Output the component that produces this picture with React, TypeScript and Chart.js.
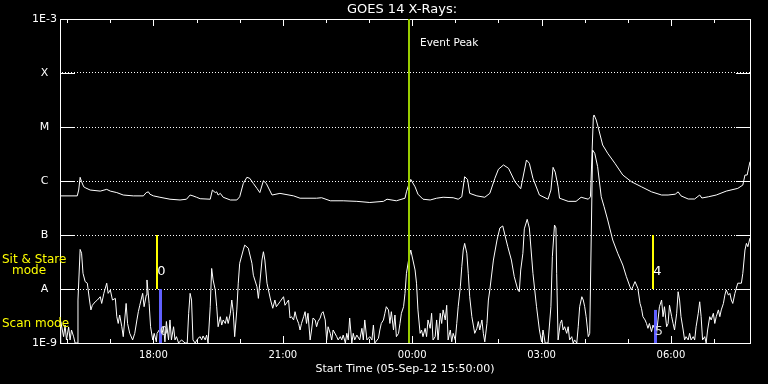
import React, { useEffect, useRef } from "react";
import { Chart, registerables } from "chart.js";

Chart.register(...registerables);

const FONT = "DejaVu Sans";

const chartTitle = "GOES 14 X-Rays:";
const xAxisTitle = "Start Time (05-Sep-12 15:50:00)";
const totalMinutes = 960; // 15:50 -> 07:50

const majorTickMinutes = [130, 310, 490, 670, 850];
const majorTickLabels = ["18:00", "21:00", "00:00", "03:00", "06:00"];
const minorTickMinutes = [10, 70, 190, 250, 370, 430, 550, 610, 730, 790, 910];

const yTickValues = [1e-9, 1e-8, 1e-7, 1e-6, 1e-5, 1e-4, 1e-3];
const yTickLabels = ["1E-9", "A", "B", "C", "M", "X", "1E-3"];

// Long channel (upper curve): minutes after 15:50, flux W/m^2
const longMinutes = [
  0, 24, 26, 28, 30, 33, 36, 42, 56, 65, 70, 79, 88, 102, 116, 120, 123, 125, 130, 139,
  153, 167, 176, 181, 185, 190, 195, 209, 212, 216, 218, 220, 223, 227, 237, 246, 250, 255, 260, 264,
  269, 274, 278, 283, 287, 295, 306, 325, 334, 357, 364, 376, 394, 413, 431, 450, 455, 468, 480, 482,
  485, 488, 494, 498, 505, 515, 524, 533, 547, 554, 559, 563, 567, 570, 580, 591, 598, 605, 610, 617,
  624, 633, 641, 649, 653, 658, 667, 679, 683, 686, 689, 693, 695, 707, 718, 725, 735, 738, 742, 743,
  746, 749, 755, 762, 772, 783, 795, 809, 823, 837, 846, 856, 860, 864, 874, 883, 890, 893, 902, 913,
  927, 943, 950, 953, 956, 960,
];
const longFlux = [
  5.3e-7, 5.3e-7, 6.8e-7, 1.17e-6, 9.7e-7, 7.8e-7, 7.4e-7, 6.8e-7, 6.5e-7, 7.0e-7, 6.5e-7, 6.1e-7, 5.5e-7, 5.3e-7, 5.3e-7, 6.1e-7, 6.3e-7, 5.7e-7, 5.3e-7, 5.0e-7,
  4.6e-7, 4.45e-7, 4.6e-7, 5.5e-7, 5.3e-7, 5.0e-7, 4.7e-7, 4.6e-7, 6.8e-7, 6.1e-7, 6.3e-7, 5.5e-7, 5.9e-7, 5.0e-7, 4.45e-7, 4.45e-7, 5.1e-7, 9.0e-7, 1.17e-6, 1.12e-6,
  9.0e-7, 7.3e-7, 6.1e-7, 1.01e-6, 9.0e-7, 5.5e-7, 5.9e-7, 5.3e-7, 4.8e-7, 4.8e-7, 4.9e-7, 4.3e-7, 4.3e-7, 4.2e-7, 4.0e-7, 4.2e-7, 4.6e-7, 4.3e-7, 4.8e-7, 6.3e-7,
  8.4e-7, 1.07e-6, 7.8e-7, 5.7e-7, 4.6e-7, 4.45e-7, 4.8e-7, 5.0e-7, 4.9e-7, 4.6e-7, 5.1e-7, 1.2e-6, 1.07e-6, 5.9e-7, 5.3e-7, 5.0e-7, 5.9e-7, 1.12e-6, 1.65e-6, 1.98e-6,
  1.72e-6, 9.7e-7, 7.2e-7, 2.45e-6, 2.13e-6, 1.12e-6, 5.5e-7, 4.6e-7, 6.8e-7, 1.79e-6, 1.46e-6, 7.8e-7, 4.8e-7, 4.2e-7, 4.2e-7, 5.0e-7, 4.6e-7, 5.1e-7, 1.5e-5, 1.67e-5,
  1.35e-5, 9.6e-6, 4.64e-6, 3.26e-6, 2.13e-6, 1.29e-6, 9.7e-7, 7.8e-7, 6.3e-7, 5.5e-7, 5.5e-7, 5.7e-7, 6.3e-7, 5.3e-7, 4.64e-7, 4.64e-7, 5.5e-7, 4.84e-7, 5.1e-7, 5.5e-7,
  6.5e-7, 7.3e-7, 8.4e-7, 1.29e-6, 1.29e-6, 2.28e-6,
];

// Short channel (lower curve)
const shortMinutes = [
  0, 1, 5, 7, 9, 12, 14, 16, 19, 21, 24, 25, 28, 30, 32, 35, 38, 41, 43, 45,
  49, 52, 56, 58, 61, 65, 67, 70, 73, 77, 79, 81, 83, 86, 88, 92, 94, 97, 101, 104,
  107, 109, 111, 115, 117, 120, 121, 124, 126, 129, 131, 134, 135, 138, 141, 144, 146, 148, 151, 153,
  155, 158, 160, 162, 165, 169, 174, 177, 179, 181, 183, 185, 188, 192, 195, 197, 199, 202, 204, 206,
  209, 211, 213, 216, 218, 220, 223, 225, 227, 230, 232, 234, 237, 239, 241, 243, 246, 248, 250, 255,
  257, 262, 267, 269, 274, 276, 278, 281, 283, 285, 288, 290, 293, 296, 299, 301, 306, 311, 313, 318,
  320, 322, 325, 327, 329, 332, 334, 336, 339, 341, 343, 345, 348, 350, 352, 355, 357, 359, 362, 364,
  366, 369, 371, 373, 376, 378, 380, 385, 387, 390, 392, 394, 397, 399, 401, 403, 406, 408, 410, 413,
  417, 420, 422, 424, 427, 431, 434, 436, 438, 443, 445, 447, 450, 452, 454, 457, 459, 461, 464, 466,
  468, 471, 473, 475, 478, 480, 482, 485, 488, 491, 494, 496, 498, 501, 503, 505, 508, 510, 512, 515,
  517, 519, 522, 524, 526, 529, 531, 533, 536, 538, 540, 543, 545, 547, 550, 552, 554, 557, 559, 561,
  563, 566, 568, 570, 573, 575, 577, 580, 582, 584, 587, 589, 591, 594, 596, 598, 603, 608, 612, 616,
  620, 623, 628, 632, 637, 639, 641, 644, 646, 650, 653, 658, 663, 667, 670, 672, 675, 679, 683, 685,
  688, 690, 691, 693, 696, 698, 700, 702, 705, 707, 709, 712, 714, 716, 719, 721, 723, 726, 728, 730,
  732, 735, 737, 741, 744, 748, 753, 757, 762, 769, 776, 783, 788, 793, 795, 797, 800, 804, 807, 809,
  811, 814, 816, 818, 820, 823, 825, 827, 830, 832, 834, 837, 839, 841, 844, 846, 848, 851, 853, 855,
  858, 860, 862, 864, 867, 869, 871, 874, 876, 878, 881, 883, 885, 888, 890, 892, 894, 897, 899, 901,
  904, 906, 909, 911, 913, 916, 918, 920, 923, 925, 927, 930, 932, 934, 936, 939, 941, 943, 948, 950,
  953, 955, 957, 960,
];
const shortFlux = [
  1e-9, 2.5e-9, 1.31e-9, 2.15e-9, 1.14e-9, 1.98e-9, 1.14e-9, 1.74e-9, 1.3e-9, 1e-9, 1e-9, 6.25e-9, 5.4e-8, 4.6e-8, 1.95e-8, 1.37e-8, 1.28e-8, 6.25e-9, 4.1e-9, 5.0e-9,
  5.8e-9, 6.25e-9, 7.2e-9, 5.4e-9, 8.3e-9, 1.28e-8, 8.3e-9, 9.6e-9, 6.25e-9, 6.7e-9, 3.07e-9, 2.3e-9, 3.3e-9, 2.0e-9, 1.31e-9, 5.4e-9, 2.3e-9, 1.51e-9, 1.14e-9, 1.51e-9,
  2.67e-9, 3.8e-9, 5.0e-9, 8.3e-9, 4.7e-9, 7.7e-9, 1.47e-8, 5.4e-9, 2.0e-9, 1.14e-9, 1.51e-9, 1.05e-9, 1.5e-9, 1.74e-9, 1.3e-9, 2.0e-9, 1.05e-9, 2.5e-9, 1.14e-9, 2.67e-9,
  1.14e-9, 2.0e-9, 1.14e-9, 1.31e-9, 1e-9, 1.14e-9, 1e-9, 1e-9, 3.55e-9, 8.3e-9, 6.25e-9, 1.14e-9, 1e-9, 1.22e-9, 1.31e-9, 1.14e-9, 1.35e-9, 1.14e-9, 1.4e-9, 1e-9,
  4.7e-9, 2.4e-8, 1.47e-8, 9.6e-9, 4.7e-9, 2.0e-9, 3.07e-9, 2.15e-9, 2.67e-9, 2.3e-9, 3.07e-9, 2.3e-9, 3.55e-9, 6.25e-9, 3.8e-9, 1.31e-9, 4.1e-9, 1.28e-8, 3.0e-8, 5.3e-8,
  6.5e-8, 5.7e-8, 3.0e-8, 1.8e-8, 1.1e-8, 6.7e-9, 1.28e-8, 3.44e-8, 4.9e-8, 3.44e-8, 1.28e-8, 9.6e-9, 6.25e-9, 4.4e-9, 6.25e-9, 4.7e-9, 5.8e-9, 7.2e-9, 5.0e-9, 6.25e-9,
  2.9e-9, 3.07e-9, 2.67e-9, 3.8e-9, 2.9e-9, 2.3e-9, 1.74e-9, 2.3e-9, 3.07e-9, 3.8e-9, 2.3e-9, 3.55e-9, 1.14e-9, 1.74e-9, 2.9e-9, 2.67e-9, 2.0e-9, 2.5e-9, 2.9e-9, 3.55e-9,
  3.8e-9, 2.67e-9, 1.14e-9, 2.0e-9, 1.51e-9, 1.14e-9, 1.74e-9, 1.31e-9, 1.14e-9, 1.31e-9, 1.14e-9, 1.4e-9, 1e-9, 1.51e-9, 1.14e-9, 2.9e-9, 1e-9, 1.51e-9, 1.14e-9, 1.4e-9,
  1.14e-9, 1.87e-9, 1.14e-9, 2.67e-9, 1.14e-9, 1.31e-9, 1.14e-9, 2.15e-9, 1e-9, 1.22e-9, 1.74e-9, 2.3e-9, 2.67e-9, 3.55e-9, 4.7e-9, 4.1e-9, 2.3e-9, 3.8e-9, 1.74e-9, 3.3e-9,
  1.31e-9, 1.51e-9, 2.3e-9, 3.55e-9, 4.7e-9, 8.3e-9, 1.95e-8, 3.44e-8, 5.27e-8, 3.44e-8, 2.25e-8, 1.28e-8, 4.1e-9, 1.51e-9, 1.74e-9, 1.31e-9, 1.87e-9, 1.31e-9, 2.67e-9, 1.87e-9,
  3.55e-9, 1.14e-9, 1.31e-9, 2.67e-9, 1.14e-9, 3.55e-9, 2.3e-9, 4.1e-9, 2.67e-9, 5.0e-9, 1.14e-9, 1.74e-9, 1.05e-9, 1.51e-9, 1.14e-9, 2.3e-9, 4.7e-9, 1.1e-8, 2.59e-8, 5.27e-8,
  7.0e-8, 4.6e-8, 1.95e-8, 7.2e-9, 3.07e-9, 2.15e-9, 1.51e-9, 1.87e-9, 2.5e-9, 1.74e-9, 2.67e-9, 1.51e-9, 1.05e-9, 2.3e-9, 6.25e-9, 9.6e-9, 3.44e-8, 8.07e-8, 1.35e-7, 1.47e-7,
  8.8e-8, 6.07e-8, 3.44e-8, 1.69e-8, 9.6e-9, 8.9e-9, 2.25e-8, 4.58e-8, 1.3e-7, 1.95e-7, 1.35e-7, 1.95e-8, 4.7e-9, 1.74e-9, 1.05e-9, 1.74e-9, 1e-9, 1e-9, 4.7e-9, 3.96e-8,
  1.53e-7, 1.35e-7, 1.95e-8, 1.14e-9, 2.3e-9, 2.67e-9, 1.74e-9, 2.0e-9, 1.51e-9, 2.0e-9, 1.14e-9, 1.31e-9, 1e-9, 1.14e-9, 1e-9, 2.0e-9, 4.7e-9, 7.2e-9, 6.25e-9, 4.7e-9,
  3.07e-9, 1.31e-9, 1.51e-9, 3.75e-6, 3.26e-6, 1.84e-6, 5.1e-7, 3.34e-7, 1.9e-7, 8.07e-8, 4.58e-8, 2.78e-8, 1.69e-8, 1.1e-8, 9.6e-9, 1.1e-8, 1.37e-8, 1.03e-8, 5.4e-9, 4.4e-9,
  3.07e-9, 2.67e-9, 2.3e-9, 1.87e-9, 2.3e-9, 1.62e-9, 2.15e-9, 1.87e-9, 1.51e-9, 2.67e-9, 4.7e-9, 6.25e-9, 3.07e-9, 4.7e-9, 2.0e-9, 2.3e-9, 5.0e-9, 3.07e-9, 2.3e-9, 1.74e-9,
  3.55e-9, 8.9e-9, 6.25e-9, 3.07e-9, 1.74e-9, 1.14e-9, 1.31e-9, 1.14e-9, 1.51e-9, 1.14e-9, 1.31e-9, 1.14e-9, 2.0e-9, 3.55e-9, 5.8e-9, 3.07e-9, 1.14e-9, 1.31e-9, 1e-9, 1.74e-9,
  3.07e-9, 2.67e-9, 3.55e-9, 2.3e-9, 3.07e-9, 4.1e-9, 3.07e-9, 4.1e-9, 5.4e-9, 7.7e-9, 9.6e-9, 7.7e-9, 8.3e-9, 6.25e-9, 5.4e-9, 8.3e-9, 1.04e-8, 1.28e-8, 1.28e-8, 1.95e-8,
  5.27e-8, 7.0e-8, 6.07e-8, 8.8e-8,
];

// Annotations
const eventPeakMinute = 486;
const eventPeakLabel = "Event Peak";
const sitStareMinutes = [135, 825];
const sitStareLabels = ["0", "4"];
const sitStareLow = 1e-8;
const sitStareHigh = 1e-7;
const scanMinutes = [139, 828];
const scanTops = [1e-8, 4.1e-9];
const scanLabels = ["0", "5"];

const decorPlugin = {
  id: "decor",
  beforeDraw(chart: any) {
    const { ctx, width, height } = chart;
    ctx.save();
    ctx.fillStyle = "#000";
    ctx.fillRect(0, 0, width, height);
    ctx.restore();
  },
  afterDraw(chart: any) {
    const { ctx, chartArea } = chart;
    const { left, right, top, bottom } = chartArea;
    const xs = chart.scales.x;
    const ys = chart.scales.y;
    ctx.save();

    // frame
    ctx.strokeStyle = "#fff";
    ctx.lineWidth = 1;
    ctx.strokeRect(left + 0.5, top + 0.5, right - left, bottom - top);

    // y decade ticks (inside, both sides)
    ctx.beginPath();
    yTickValues.slice(1, -1).forEach((v) => {
      const py = Math.round(ys.getPixelForValue(v)) + 0.5;
      ctx.moveTo(left, py);
      ctx.lineTo(left + 15, py);
      ctx.moveTo(right - 14, py);
      ctx.lineTo(right, py);
    });
    ctx.stroke();

    // x ticks top and bottom, inward
    ctx.beginPath();
    majorTickMinutes.forEach((m) => {
      const px = Math.round(xs.getPixelForValue(m)) + 0.5;
      ctx.moveTo(px, top);
      ctx.lineTo(px, top + 7);
      ctx.moveTo(px, bottom);
      ctx.lineTo(px, bottom - 7);
    });
    minorTickMinutes.forEach((m) => {
      const px = Math.round(xs.getPixelForValue(m)) + 0.5;
      ctx.moveTo(px, top);
      ctx.lineTo(px, top + 4);
      ctx.moveTo(px, bottom);
      ctx.lineTo(px, bottom - 4);
    });
    ctx.stroke();

    // event peak line
    const ex = xs.getPixelForValue(eventPeakMinute);
    ctx.fillStyle = "#99cc00";
    ctx.fillRect(Math.round(ex) - 1, top, 2, bottom - top);
    ctx.fillStyle = "#fff";
    ctx.font = `10.5px "${FONT}"`;
    ctx.textAlign = "left";
    ctx.textBaseline = "middle";
    ctx.fillText(eventPeakLabel, Math.round(ex) + 11, 43);

    // sit & stare marks
    const yHi = ys.getPixelForValue(sitStareHigh);
    const yLo = ys.getPixelForValue(sitStareLow);
    ctx.font = `13px "${FONT}"`;
    ctx.textAlign = "center";
    sitStareMinutes.forEach((m, i) => {
      const px = Math.round(xs.getPixelForValue(m));
      ctx.fillStyle = "#ffff00";
      ctx.fillRect(px - 1, yHi, 2, yLo - yHi);
      ctx.fillStyle = "#fff";
      ctx.fillText(sitStareLabels[i], px + 4.5, yLo - 17);
    });
    scanMinutes.forEach((m, i) => {
      const px = Math.round(xs.getPixelForValue(m));
      const yt = ys.getPixelForValue(scanTops[i]);
      ctx.fillStyle = "#6060ff";
      ctx.fillRect(px - 1, yt, 3, bottom - yt);
      ctx.fillStyle = "#ddd";
      ctx.fillText(scanLabels[i], px + 4, bottom - 11);
    });

    // title
    ctx.fillStyle = "#fff";
    ctx.font = `13px "${FONT}"`;
    ctx.textAlign = "center";
    ctx.textBaseline = "middle";
    ctx.fillText(chartTitle, (left + right) / 2 - 3, 10);

    // x axis title
    ctx.font = `11px "${FONT}"`;
    ctx.fillText(xAxisTitle, (left + right) / 2, 369);

    // mode labels
    ctx.fillStyle = "#ffff00";
    ctx.textAlign = "left";
    ctx.font = `12px "${FONT}"`;
    ctx.fillText("Sit & Stare", 2, 259.5);
    ctx.fillText("mode", 12, 271);
    ctx.fillText("Scan mode", 2, 324);

    ctx.restore();
  },
};

export default function App() {
  const canvasRef = useRef<HTMLCanvasElement | null>(null);

  useEffect(() => {
    document.body.style.margin = "0";
    document.body.style.background = "#000";
    const canvas = canvasRef.current;
    if (!canvas) return;

    const longData = longMinutes.map((m, i) => ({ x: m, y: longFlux[i] }));
    const shortData = shortMinutes.map((m, i) => ({ x: m, y: shortFlux[i] }));

    const chart = new Chart(canvas, {
      type: "line",
      data: {
        datasets: [
          { label: "1-8 A", data: longData, borderColor: "#fff", borderWidth: 1, pointRadius: 0, tension: 0 },
          { label: "0.5-4 A", data: shortData, borderColor: "#fff", borderWidth: 1, pointRadius: 0, tension: 0 },
        ],
      },
      options: {
        animation: false,
        responsive: false,
        devicePixelRatio: 1,
        layout: { padding: { top: 19, right: 18, left: 0, bottom: 0 } },
        plugins: {
          legend: { display: false },
          tooltip: { enabled: false },
          title: { display: false },
        },
        scales: {
          x: {
            type: "linear",
            min: 0,
            max: totalMinutes,
            position: "bottom",
            afterFit: (s: any) => {
              s.height = 41;
            },
            afterBuildTicks: (s: any) => {
              s.ticks = majorTickMinutes.map((v) => ({ value: v }));
            },
            ticks: {
              autoSkip: false,
              maxRotation: 0,
              minRotation: 0,
              color: "#fff",
              padding: 6,
              font: { family: FONT, size: 10 },
              callback: (_v: any, i: number) => majorTickLabels[i],
            },
            grid: { display: false, drawTicks: false },
            border: { display: false },
          },
          y: {
            type: "logarithmic",
            min: 1e-9,
            max: 1e-3,
            afterFit: (s: any) => {
              s.width = 60;
            },
            afterBuildTicks: (s: any) => {
              s.ticks = yTickValues.map((v) => ({ value: v }));
            },
            ticks: {
              autoSkip: false,
              color: "#fff",
              padding: 3,
              crossAlign: "center",
              font: { family: FONT, size: 11 },
              callback: (_v: any, i: number) => yTickLabels[i],
            },
            grid: {
              drawTicks: false,
              lineWidth: 1,
              color: (c: any) =>
                c.index === 0 || c.index === yTickValues.length - 1 ? "rgba(0,0,0,0)" : "#fff",
            },
            border: { display: false, dash: [1, 2], dashOffset: 1 },
          },
        },
      } as any,
      plugins: [decorPlugin],
    });

    return () => chart.destroy();
  }, []);

  return (
    <div style={{ width: 768, height: 384, background: "#000" }}>
      <canvas ref={canvasRef} width={768} height={384} style={{ display: "block" }} />
    </div>
  );
}
